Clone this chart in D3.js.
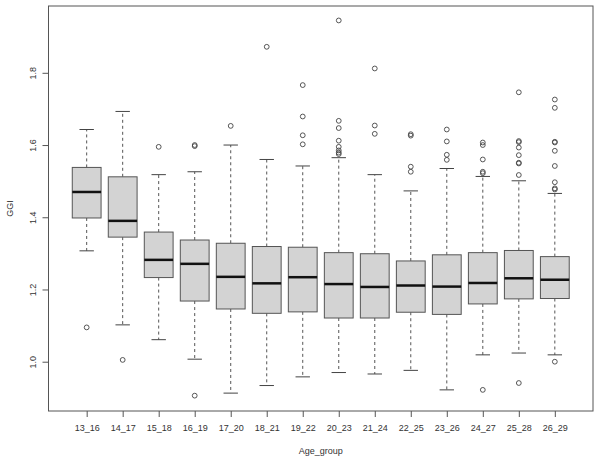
<!DOCTYPE html>
<html>
<head>
<meta charset="utf-8">
<script src="https://d3js.org/d3.v7.min.js"></script>
<style>
  body { margin: 0; padding: 0; background: #fff; }
  text { font-family: 'Liberation Sans', Arial, sans-serif; fill: #333; }
</style>
</head>
<body>
<div id="chart"></div>
<script>
// Age groups and box statistics
var groups = ["13_16","14_17","15_18","16_19","17_20","18_21","19_22","20_23","21_24","22_25","23_26","24_27","25_28","26_29"];
var whiskLo = [1.307, 1.102, 1.061, 1.007, 0.913, 0.934, 0.958, 0.970, 0.966, 0.976, 0.922, 1.019, 1.024, 1.019];
var q1      = [1.398, 1.345, 1.233, 1.168, 1.146, 1.134, 1.138, 1.121, 1.121, 1.137, 1.131, 1.160, 1.174, 1.175];
var median  = [1.470, 1.390, 1.282, 1.271, 1.235, 1.217, 1.234, 1.215, 1.207, 1.211, 1.208, 1.218, 1.231, 1.227];
var q3      = [1.538, 1.512, 1.359, 1.337, 1.328, 1.319, 1.317, 1.302, 1.299, 1.279, 1.296, 1.302, 1.308, 1.291];
var whiskHi = [1.643, 1.693, 1.518, 1.526, 1.600, 1.560, 1.542, 1.565, 1.518, 1.473, 1.535, 1.513, 1.501, 1.466];
var outliers = [
  [1.095],
  [1.005],
  [1.595],
  [1.597, 1.600, 0.906],
  [1.653],
  [1.872],
  [1.766, 1.679, 1.627, 1.602],
  [1.945, 1.667, 1.647, 1.612, 1.595, 1.585, 1.579, 1.575],
  [1.812, 1.654, 1.631],
  [1.630, 1.626, 1.540, 1.526],
  [1.643, 1.610, 1.573, 1.559],
  [1.607, 1.600, 1.560, 1.526, 1.522, 0.922],
  [1.746, 1.611, 1.608, 1.593, 1.572, 1.551, 1.549, 1.517, 0.941],
  [1.726, 1.703, 1.609, 1.607, 1.584, 1.542, 1.497, 1.480, 1.477, 1.000]
];
var yTicks = [1.0, 1.2, 1.4, 1.6, 1.8];

var W = 600, H = 462;
var plotL = 48.5, plotR = 593, plotT = 6, plotB = 411;

var svg = d3.select("#chart").append("svg")
  .attr("width", W).attr("height", H);

// R-style scales: x positions 1..n with 4% padding
var n = groups.length;
var x = d3.scaleLinear().domain([0.5 - 0.04 * n, n + 0.5 + 0.04 * n]).range([plotL, plotR]);
var y = d3.scaleLinear().domain([0.8635, 1.985]).range([plotB, plotT]);

var boxW = x(1.4) - x(1);   // half of boxwex 0.8
var stapleW = boxW / 2;

var data = groups.map(function(g, i) {
  return {g: g, pos: i + 1, lo: whiskLo[i], q1: q1[i], med: median[i], q3: q3[i], hi: whiskHi[i], out: outliers[i]};
});

var box = svg.selectAll("g.box").data(data).enter().append("g").attr("class", "box");

// whiskers (dashed)
box.append("line")
  .attr("x1", function(d) { return x(d.pos); }).attr("x2", function(d) { return x(d.pos); })
  .attr("y1", function(d) { return y(d.q3); }).attr("y2", function(d) { return y(d.hi); })
  .attr("stroke", "#555").attr("stroke-dasharray", "3,3");
box.append("line")
  .attr("x1", function(d) { return x(d.pos); }).attr("x2", function(d) { return x(d.pos); })
  .attr("y1", function(d) { return y(d.q1); }).attr("y2", function(d) { return y(d.lo); })
  .attr("stroke", "#555").attr("stroke-dasharray", "3,3");

// staples
["hi", "lo"].forEach(function(k) {
  box.append("line")
    .attr("x1", function(d) { return x(d.pos) - stapleW; })
    .attr("x2", function(d) { return x(d.pos) + stapleW; })
    .attr("y1", function(d) { return y(d[k]); }).attr("y2", function(d) { return y(d[k]); })
    .attr("stroke", "#444");
});

// boxes
box.append("rect")
  .attr("x", function(d) { return x(d.pos) - boxW; })
  .attr("width", 2 * boxW)
  .attr("y", function(d) { return y(d.q3); })
  .attr("height", function(d) { return y(d.q1) - y(d.q3); })
  .attr("fill", "#d3d3d3").attr("stroke", "#555");

// medians
box.append("line")
  .attr("x1", function(d) { return x(d.pos) - boxW; })
  .attr("x2", function(d) { return x(d.pos) + boxW; })
  .attr("y1", function(d) { return y(d.med); }).attr("y2", function(d) { return y(d.med); })
  .attr("stroke", "#111").attr("stroke-width", 2.5);

// outliers
box.selectAll("circle").data(function(d) { return d.out.map(function(v) { return {pos: d.pos, v: v}; }); })
  .enter().append("circle")
  .attr("cx", function(d) { return x(d.pos); })
  .attr("cy", function(d) { return y(d.v); })
  .attr("r", 2.4)
  .attr("fill", "none").attr("stroke", "#444").attr("stroke-width", 0.9);

// frame
svg.append("rect")
  .attr("x", plotL).attr("y", plotT)
  .attr("width", plotR - plotL).attr("height", plotB - plotT)
  .attr("fill", "none").attr("stroke", "#555");

// y axis
var yAxis = svg.append("g")
  .attr("transform", "translate(" + plotL + ",0)")
  .call(d3.axisLeft(y).tickValues(yTicks).tickSize(6).tickFormat(d3.format(".1f")));
yAxis.select(".domain").remove();
yAxis.selectAll(".tick line").attr("stroke", "#555");
yAxis.selectAll(".tick text")
  .attr("x", null).attr("dy", null)
  .attr("transform", "translate(-13,0) rotate(-90)")
  .attr("text-anchor", "middle")
  .style("font-size", "9px").style("font-family", "'Liberation Sans', Arial, sans-serif").attr("fill", "#333");

// x axis
var xAxis = svg.append("g")
  .attr("transform", "translate(0," + plotB + ")")
  .call(d3.axisBottom(x).tickValues(d3.range(1, n + 1)).tickSize(6)
    .tickFormat(function(d) { return groups[d - 1]; }));
xAxis.select(".domain").remove();
xAxis.selectAll(".tick line").attr("stroke", "#555");
xAxis.selectAll(".tick text")
  .attr("y", 20).attr("dy", null)
  .style("font-size", "9px").style("font-family", "'Liberation Sans', Arial, sans-serif").attr("fill", "#333");

// axis titles
svg.append("text")
  .attr("x", (plotL + plotR) / 2).attr("y", 454)
  .attr("text-anchor", "middle").style("font-size", "9px")
  .text("Age_group");
svg.append("text")
  .attr("transform", "translate(13," + (plotT + plotB) / 2 + ") rotate(-90)")
  .attr("text-anchor", "middle").style("font-size", "9px")
  .text("GGI");
</script>
</body>
</html>
